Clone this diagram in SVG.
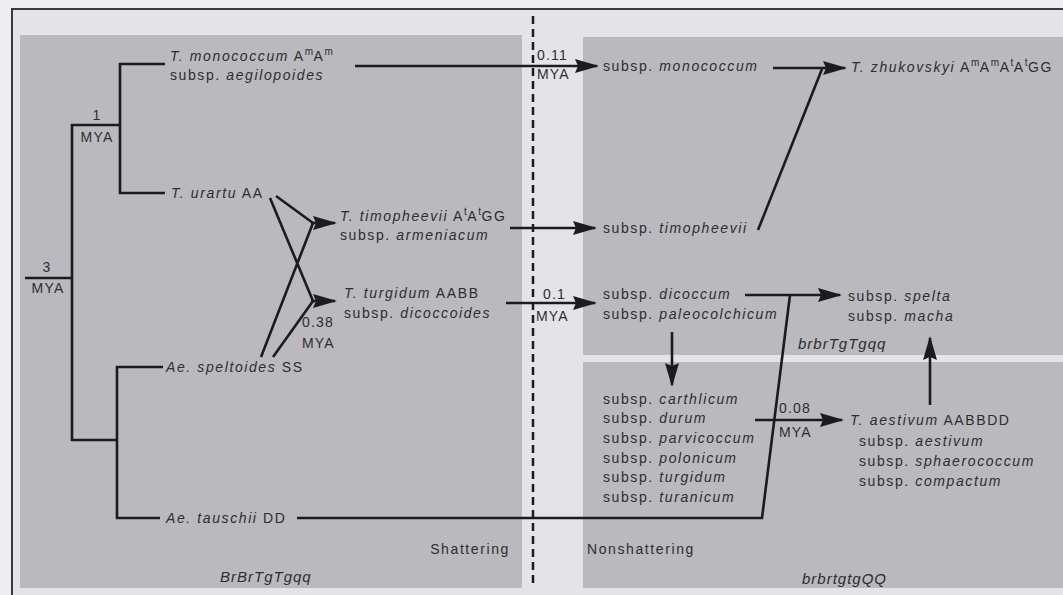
<svg xmlns="http://www.w3.org/2000/svg" width="1063" height="595" viewBox="0 0 1063 595">
<style>
.t{font-family:"Liberation Sans",Arial,sans-serif;font-size:14px;letter-spacing:1.6px;fill:#2e2e2e}
.m{letter-spacing:1.2px}
.i{font-style:italic}
.sup{font-size:10px;letter-spacing:0.5px}
.g{font-family:"Liberation Sans",Arial,sans-serif;font-size:15px;font-style:italic;letter-spacing:1px;fill:#2e2e2e}
.ln{fill:none;stroke:#1c1c1c;stroke-width:2.6;stroke-linejoin:miter}
.ar{fill:none;stroke:#1c1c1c;stroke-width:2.6;marker-end:url(#ah)}
</style>
<defs>
<marker id="ah" markerUnits="userSpaceOnUse" markerWidth="24" markerHeight="14" refX="22" refY="7" orient="auto">
<path d="M0,0 L24,7 L0,14 L3,7 z" fill="#1c1c1c"/>
</marker>
</defs>
<g id="background">
<rect x="0" y="0" width="1063" height="595" fill="#eeeef2"/>
<rect x="12" y="9" width="1060" height="590" fill="#e4e4e8" stroke="#3a3a3a" stroke-width="2"/>
<rect x="20" y="35" width="502" height="553" fill="#b9b9be"/>
<rect x="583" y="37" width="480" height="318" fill="#b9b9be"/>
<rect x="583" y="362" width="480" height="226" fill="#b9b9be"/>
<line x1="533" y1="16" x2="533" y2="588" stroke="#1c1c1c" stroke-width="2.5" stroke-dasharray="8 5"/>
</g>
<g id="connectors">
<path class="ln" d="M25,278 H72 M72,124 V441 M71,125 H121 M120,63 V194 M119,64 H165 M119,193 H165 M71,440 H117 M117,366 V519 M116,367 H163 M116,518 H160"/>
<path class="ln" d="M276,196 L313,223 M270,198 L313,301 M261,357 L313,223 M273,357 L313,301"/>
<path class="ar" d="M311,223 H335"/>
<path class="ar" d="M311,301 H335"/>
<path class="ar" d="M355,66 H597"/>
<path class="ar" d="M510,228 H595"/>
<path class="ar" d="M506,303 H595"/>
<path class="ar" d="M773,68 H845"/>
<path class="ln" d="M758,230 L822,69"/>
<path class="ar" d="M745,295 H840"/>
<path class="ln" d="M297,518 H762 L790,295"/>
<path class="ar" d="M672,332 V385"/>
<path class="ar" d="M755,420 H842"/>
<path class="ar" d="M930,405 V338"/>
</g>
<g id="n-monococcum">
<text class="t" x="170" y="61"><tspan class="i">T. monococcum</tspan> A<tspan class="sup" dy="-6">m</tspan><tspan dy="6">A</tspan><tspan class="sup" dy="-6">m</tspan></text>
<text class="t" x="170" y="80">subsp. <tspan class="i">aegilopoides</tspan></text>
</g>
<g id="n-urartu">
<text class="t" x="171" y="198"><tspan class="i">T. urartu</tspan> AA</text>
</g>
<g id="n-speltoides">
<text class="t" x="166" y="372"><tspan class="i">Ae. speltoides</tspan> SS</text>
</g>
<g id="n-tauschii">
<text class="t" x="166" y="523"><tspan class="i">Ae. tauschii</tspan> DD</text>
</g>
<g id="n-timopheevii">
<text class="t" x="340" y="221"><tspan class="i">T. timopheevii</tspan> A<tspan class="sup" dy="-6">t</tspan><tspan dy="6">A</tspan><tspan class="sup" dy="-6">t</tspan><tspan dy="6">GG</tspan></text>
<text class="t" x="340" y="240">subsp. <tspan class="i">armeniacum</tspan></text>
</g>
<g id="n-turgidum">
<text class="t" x="344" y="298"><tspan class="i">T. turgidum</tspan> AABB</text>
<text class="t" x="344" y="318">subsp. <tspan class="i">dicoccoides</tspan></text>
</g>
<g id="n-subsp-monococcum">
<text class="t" x="603" y="71">subsp. <tspan class="i">monococcum</tspan></text>
</g>
<g id="n-zhukovskyi">
<text class="t" x="851" y="72"><tspan class="i">T. zhukovskyi</tspan> A<tspan class="sup" dy="-6">m</tspan><tspan dy="6">A</tspan><tspan class="sup" dy="-6">m</tspan><tspan dy="6">A</tspan><tspan class="sup" dy="-6">t</tspan><tspan dy="6">A</tspan><tspan class="sup" dy="-6">t</tspan><tspan dy="6">GG</tspan></text>
</g>
<g id="n-subsp-timopheevii">
<text class="t" x="603" y="233">subsp. <tspan class="i">timopheevii</tspan></text>
</g>
<g id="n-dicoccum">
<text class="t" x="603" y="299">subsp. <tspan class="i">dicoccum</tspan></text>
<text class="t" x="603" y="319">subsp. <tspan class="i">paleocolchicum</tspan></text>
</g>
<g id="n-spelta">
<text class="t" x="848" y="301">subsp. <tspan class="i">spelta</tspan></text>
<text class="t" x="848" y="321">subsp. <tspan class="i">macha</tspan></text>
</g>
<g id="n-durum">
<text class="t" x="603" y="404">subsp. <tspan class="i">carthlicum</tspan></text>
<text class="t" x="603" y="423">subsp. <tspan class="i">durum</tspan></text>
<text class="t" x="603" y="443">subsp. <tspan class="i">parvicoccum</tspan></text>
<text class="t" x="603" y="463">subsp. <tspan class="i">polonicum</tspan></text>
<text class="t" x="603" y="482">subsp. <tspan class="i">turgidum</tspan></text>
<text class="t" x="603" y="502">subsp. <tspan class="i">turanicum</tspan></text>
</g>
<g id="n-aestivum">
<text class="t" x="850" y="425"><tspan class="i">T. aestivum</tspan> AABBDD</text>
<text class="t" x="859" y="446">subsp. <tspan class="i">aestivum</tspan></text>
<text class="t" x="859" y="466">subsp. <tspan class="i">sphaerococcum</tspan></text>
<text class="t" x="859" y="486">subsp. <tspan class="i">compactum</tspan></text>
</g>
<g id="time-labels">
<text class="t m" x="47" y="272" text-anchor="middle">3</text>
<text class="t m" x="48" y="293" text-anchor="middle">MYA</text>
<text class="t m" x="97" y="120" text-anchor="middle">1</text>
<text class="t m" x="97" y="142" text-anchor="middle">MYA</text>
<text class="t m" x="537" y="60">0.11</text>
<text class="t m" x="537" y="79">MYA</text>
<text class="t m" x="543" y="299">0.1</text>
<text class="t m" x="536" y="321">MYA</text>
<text class="t m" x="302" y="327">0.38</text>
<text class="t m" x="302" y="348">MYA</text>
<text class="t m" x="779" y="413">0.08</text>
<text class="t m" x="779" y="437">MYA</text>
</g>
<g id="region-labels">
<text class="t" x="510" y="554" text-anchor="end">Shattering</text>
<text class="t" x="587" y="554">Nonshattering</text>
<text class="g" x="220" y="582">BrBrTgTgqq</text>
<text class="g" x="798" y="349">brbrTgTgqq</text>
<text class="g" x="802" y="584">brbrtgtgQQ</text>
</g>
</svg>
